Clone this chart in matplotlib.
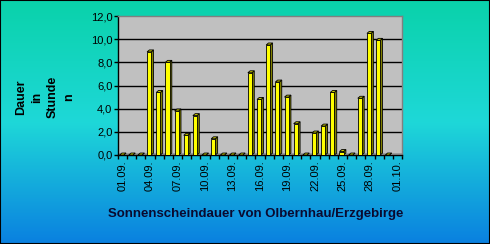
import numpy as np
import matplotlib
matplotlib.use('Agg')
import matplotlib.pyplot as plt
from matplotlib.colors import LinearSegmentedColormap
from matplotlib.patches import Polygon, Rectangle

plt.rcParams['font.family'] = ['Liberation Sans', 'DejaVu Sans']

# Sonnenscheindauer pro Tag (Stunden), 01.09. - 01.10.
days = ['01.09.', '02.09.', '03.09.', '04.09.', '05.09.', '06.09.', '07.09.', '08.09.',
        '09.09.', '10.09.', '11.09.', '12.09.', '13.09.', '14.09.', '15.09.', '16.09.',
        '17.09.', '18.09.', '19.09.', '20.09.', '21.09.', '22.09.', '23.09.', '24.09.',
        '25.09.', '26.09.', '27.09.', '28.09.', '29.09.', '30.09.', '01.10.']
hours = [0.0, 0.0, 0.0, 8.9, 5.4, 8.0, 3.8, 1.7,
         3.4, 0.0, 1.4, 0.0, 0.0, 0.0, 7.1, 4.8,
         9.5, 6.3, 5.0, 2.7, 0.0, 1.9, 2.5, 5.4,
         0.3, 0.0, 4.9, 10.5, 9.9, 0.0, np.nan]
yticks = [0, 2, 4, 6, 8, 10, 12]

fig = plt.figure(figsize=(4.9, 2.44), dpi=100)

# background gradient
bg = fig.add_axes([0, 0, 1, 1], zorder=-10)
cmap = LinearSegmentedColormap.from_list('bg', ['#0ad2aa', '#1ed8d8', '#0a80e0'])
grad = np.linspace(0, 1, 256).reshape(-1, 1)
bg.imshow(grad, aspect='auto', cmap=cmap, extent=[0, 1, 0, 1], origin='upper')
bg.set_axis_off()
bg.add_patch(Rectangle((0, 0), 1, 1, transform=bg.transAxes, fill=False,
                       edgecolor='black', lw=1.5))

ax = fig.add_axes([118 / 490, 89 / 244, 284 / 490, 139 / 244])
ax.set_facecolor('#c0c0c0')
ax.set_xlim(-0.5, len(days) - 0.5)
ax.set_ylim(0, 12)

x = np.arange(len(days))
w = 0.45
dx, dy = 0.25, 0.17

# floor
ax.add_patch(Polygon([(-0.5, 0), (len(days) - 0.5, 0), (len(days) - 0.5, dy), (-0.5, dy)],
                     closed=True, facecolor='#9a9a9a', edgecolor='none', zorder=1))

for g in yticks[1:-1]:
    ax.axhline(g, color='black', lw=1, zorder=1.5)

for xi, v in zip(x, hours):
    if np.isnan(v):
        continue
    left = xi - 0.1 - w / 2
    right = left + w
    side = [(right, 0), (right, v), (right + dx, v + dy), (right + dx, dy)]
    top = [(left, v), (right, v), (right + dx, v + dy), (left + dx, v + dy)]
    ax.add_patch(Polygon(side, closed=True, facecolor='#808000', edgecolor='black', lw=0.6, zorder=3))
    ax.add_patch(Polygon(top, closed=True, facecolor='#c8c800', edgecolor='black', lw=0.6, zorder=3))
    if v > 0:
        ax.bar(left + w / 2, v, width=w, color='#ffff00', edgecolor='black', lw=0.6, zorder=4)

ax.set_yticks(yticks)
ax.set_yticklabels([f'{t:.1f}'.replace('.', ',') for t in yticks], fontsize=8)
ax.set_xticks(x[::3])
ax.set_xticklabels(days[::3], rotation=90, fontsize=8)
ax.set_xticks(np.arange(len(days) + 1) - 0.5, minor=True)
ax.tick_params(axis='x', which='major', length=0, pad=4)
ax.tick_params(axis='x', which='minor', length=3, width=1, direction='out')
ax.tick_params(axis='y', length=3, width=1, pad=1)

for s in ['top', 'right']:
    ax.spines[s].set_color('#808080')
    ax.spines[s].set_linewidth(1)
ax.spines['left'].set_color('black')
ax.spines['bottom'].set_color('black')
ax.spines['left'].set_linewidth(1)
ax.spines['bottom'].set_linewidth(1)

fig.text(45 / 490, 1 - 97 / 244, 'Dauer\nin\nStunde\nn', rotation=90, ha='center', va='center',
         fontsize=9, fontweight='bold', linespacing=1.45, multialignment='center')
fig.text(256 / 490, 1 - 214 / 244, 'Sonnenscheindauer von Olbernhau/Erzgebirge', ha='center',
         va='center', fontsize=9.5, fontweight='bold', color='#0a0a30')

fig.savefig('out.png', dpi=100)
